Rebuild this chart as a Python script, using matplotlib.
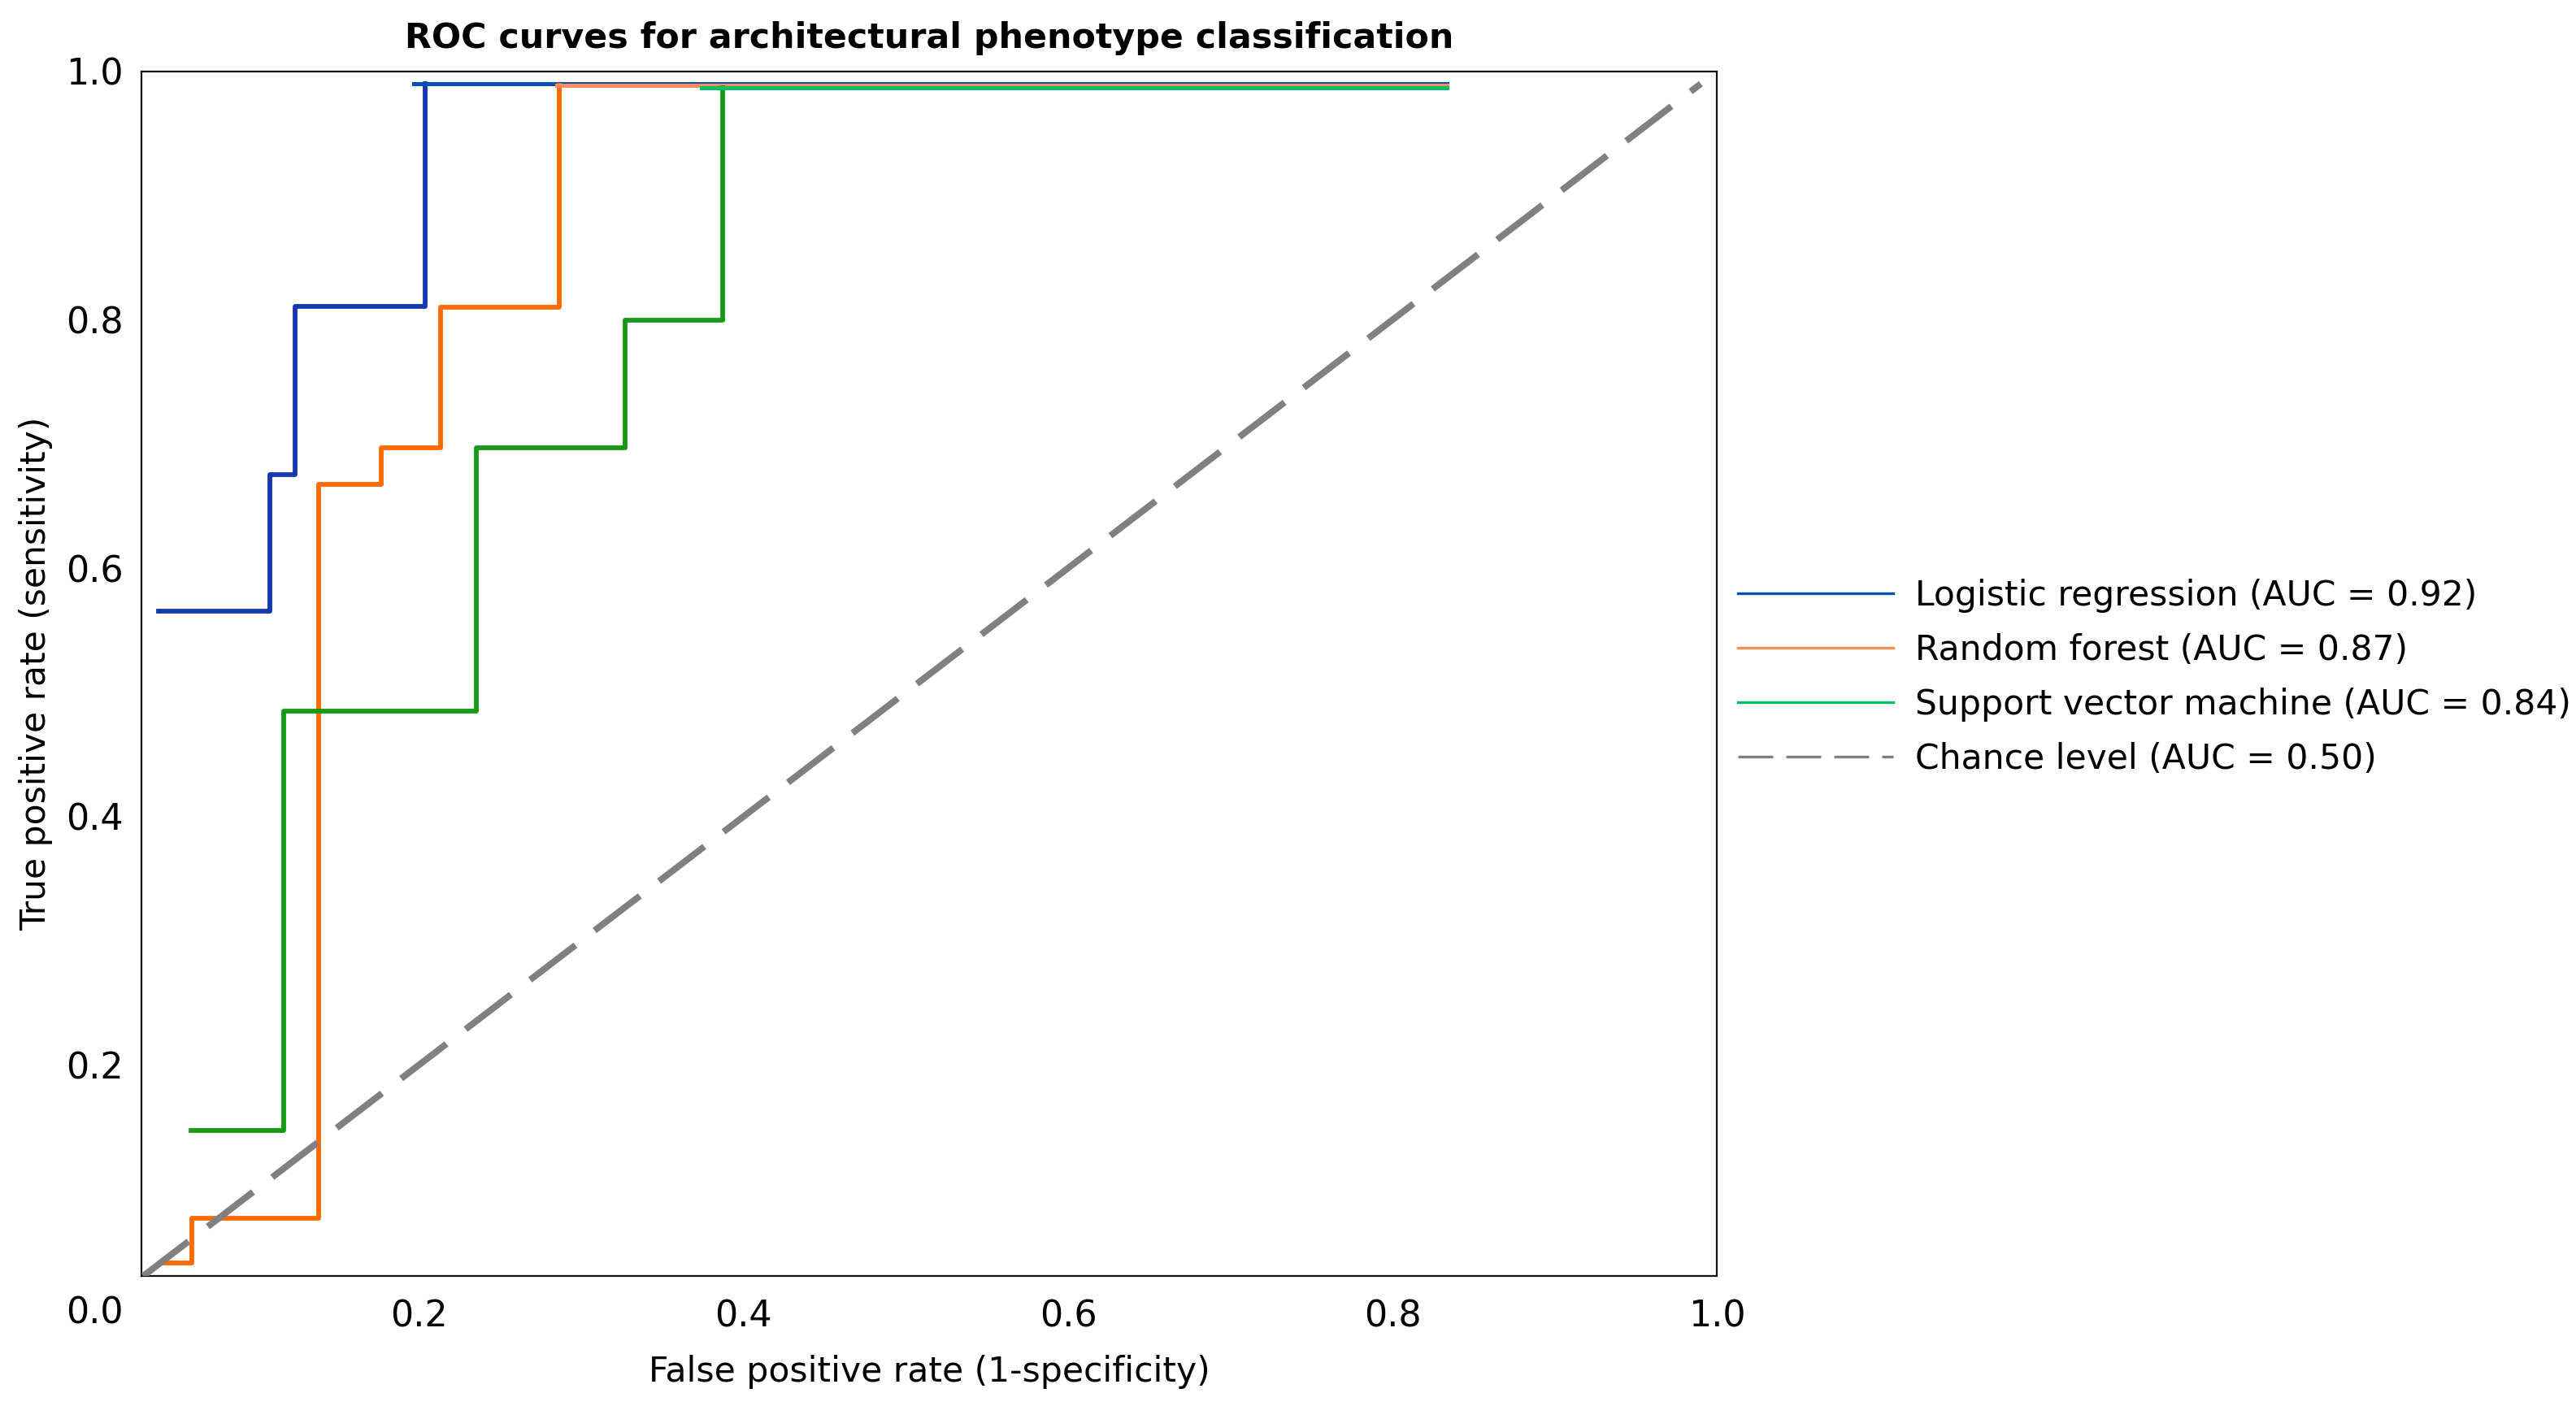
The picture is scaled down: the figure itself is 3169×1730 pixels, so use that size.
import matplotlib
matplotlib.use("Agg")
import matplotlib.pyplot as plt
from matplotlib.lines import Line2D

# ---- data ----
fpr_lr = [0.0395, 0.108, 0.108, 0.1233, 0.1233, 0.2036, 0.2036]
tpr_lr = [0.565, 0.565, 0.675, 0.675, 0.811, 0.811, 0.990]
top_lr_x = [0.1968, 0.8335]
top_lr_y = [0.990, 0.990]

fpr_rf = [0.0408, 0.060, 0.060, 0.1383, 0.1383, 0.1768, 0.1768, 0.213, 0.213, 0.2866, 0.2866]
tpr_rf = [0.0406, 0.0406, 0.0766, 0.0766, 0.6676, 0.6676, 0.697, 0.697, 0.810, 0.810, 0.9885]
top_rf_x = [0.2848, 0.8335]
top_rf_y = [0.9885, 0.9885]

fpr_svm = [0.0594, 0.1166, 0.1166, 0.2353, 0.2353, 0.327, 0.327, 0.387, 0.387]
tpr_svm = [0.147, 0.147, 0.485, 0.485, 0.697, 0.697, 0.7995, 0.7995, 0.987]
top_svm_x = [0.374, 0.8335]
top_svm_y = [0.987, 0.987]

chance_x = [0.03, 0.99]
chance_y = [0.03, 0.99]

labels = ["Logistic regression (AUC = 0.92)",
          "Random forest (AUC = 0.87)",
          "Support vector machine (AUC = 0.84)",
          "Chance level (AUC = 0.50)"]

tick_vals = [0.2, 0.4, 0.6, 0.8, 1.0]
tick_labels = ["0.2", "0.4", "0.6", "0.8", "1.0"]

# ---- colours ----
c_lr_step, c_lr_top = "#1538b0", "#0050b4"
c_rf_step, c_rf_top = "#ff6a00", "#ff8c5a"
c_svm_step, c_svm_top = "#189a18", "#00c060"
c_chance = "#808080"

plt.rcParams["font.family"] = ["DejaVu Sans"]

fig = plt.figure(figsize=(3169 / 200, 1730 / 200), dpi=200)
ax = fig.add_axes([0.05475, 0.09249, 0.6118, 0.85676])

lw = 2.1
lw_top = 1.8
ax.plot(fpr_lr, tpr_lr, color=c_lr_step, lw=lw, zorder=3)
ax.plot(top_lr_x, top_lr_y, color=c_lr_top, lw=lw_top, zorder=3)
ax.plot(fpr_rf, tpr_rf, color=c_rf_step, lw=lw, zorder=3)
ax.plot(top_rf_x, top_rf_y, color=c_rf_top, lw=lw_top, zorder=3)
ax.plot(fpr_svm, tpr_svm, color=c_svm_step, lw=lw, zorder=3)
ax.plot(top_svm_x, top_svm_y, color=c_svm_top, lw=lw_top, zorder=3)
ax.plot(chance_x, chance_y, color=c_chance, lw=2.9, dashes=(8.7, 3.7), zorder=4)

ax.set_xlim(0.0286, 1.0)
ax.set_ylim(0.030, 1.0)
ax.set_xticks(tick_vals)
ax.set_xticklabels(tick_labels)
ax.set_yticks(tick_vals)
ax.set_yticklabels(tick_labels)
ax.tick_params(axis="both", length=0, labelsize=16)
ax.tick_params(axis="x", pad=10.2)
ax.tick_params(axis="y", pad=7.7)
for s in ax.spines.values():
    s.set_linewidth(0.8)
    s.set_color("#111111")

ax.text(0.0, 0.0, "0.0", transform=ax.transData, ha="center", va="center",
        fontsize=16, clip_on=False)

ax.set_xlabel("False positive rate (1-specificity)", fontsize=15.3)
ax.xaxis.set_label_coords(0.5, -0.0654)
ax.set_ylabel("True positive rate (sensitivity)", fontsize=15.25)
ax.yaxis.set_label_coords(-0.056, 0.5)

ax.text(0.5, 1.0196, "ROC curves for architectural phenotype classification",
        transform=ax.transAxes, ha="center", va="baseline", fontsize=15.4,
        fontweight="bold")

handles = [Line2D([], [], color=c_lr_top, lw=1.2),
           Line2D([], [], color=c_rf_top, lw=1.2),
           Line2D([], [], color=c_svm_top, lw=1.2),
           Line2D([], [], color=c_chance, lw=1.2, dashes=(12.9, 4.8))]
fig.legend(handles, labels, loc="center left", bbox_to_anchor=(0.6747, 0.5182),
           frameon=False, fontsize=15.3, handlelength=4.5, handletextpad=0.63,
           labelspacing=0.59, borderpad=0, borderaxespad=0)

fig.savefig("out.png", dpi=200)
